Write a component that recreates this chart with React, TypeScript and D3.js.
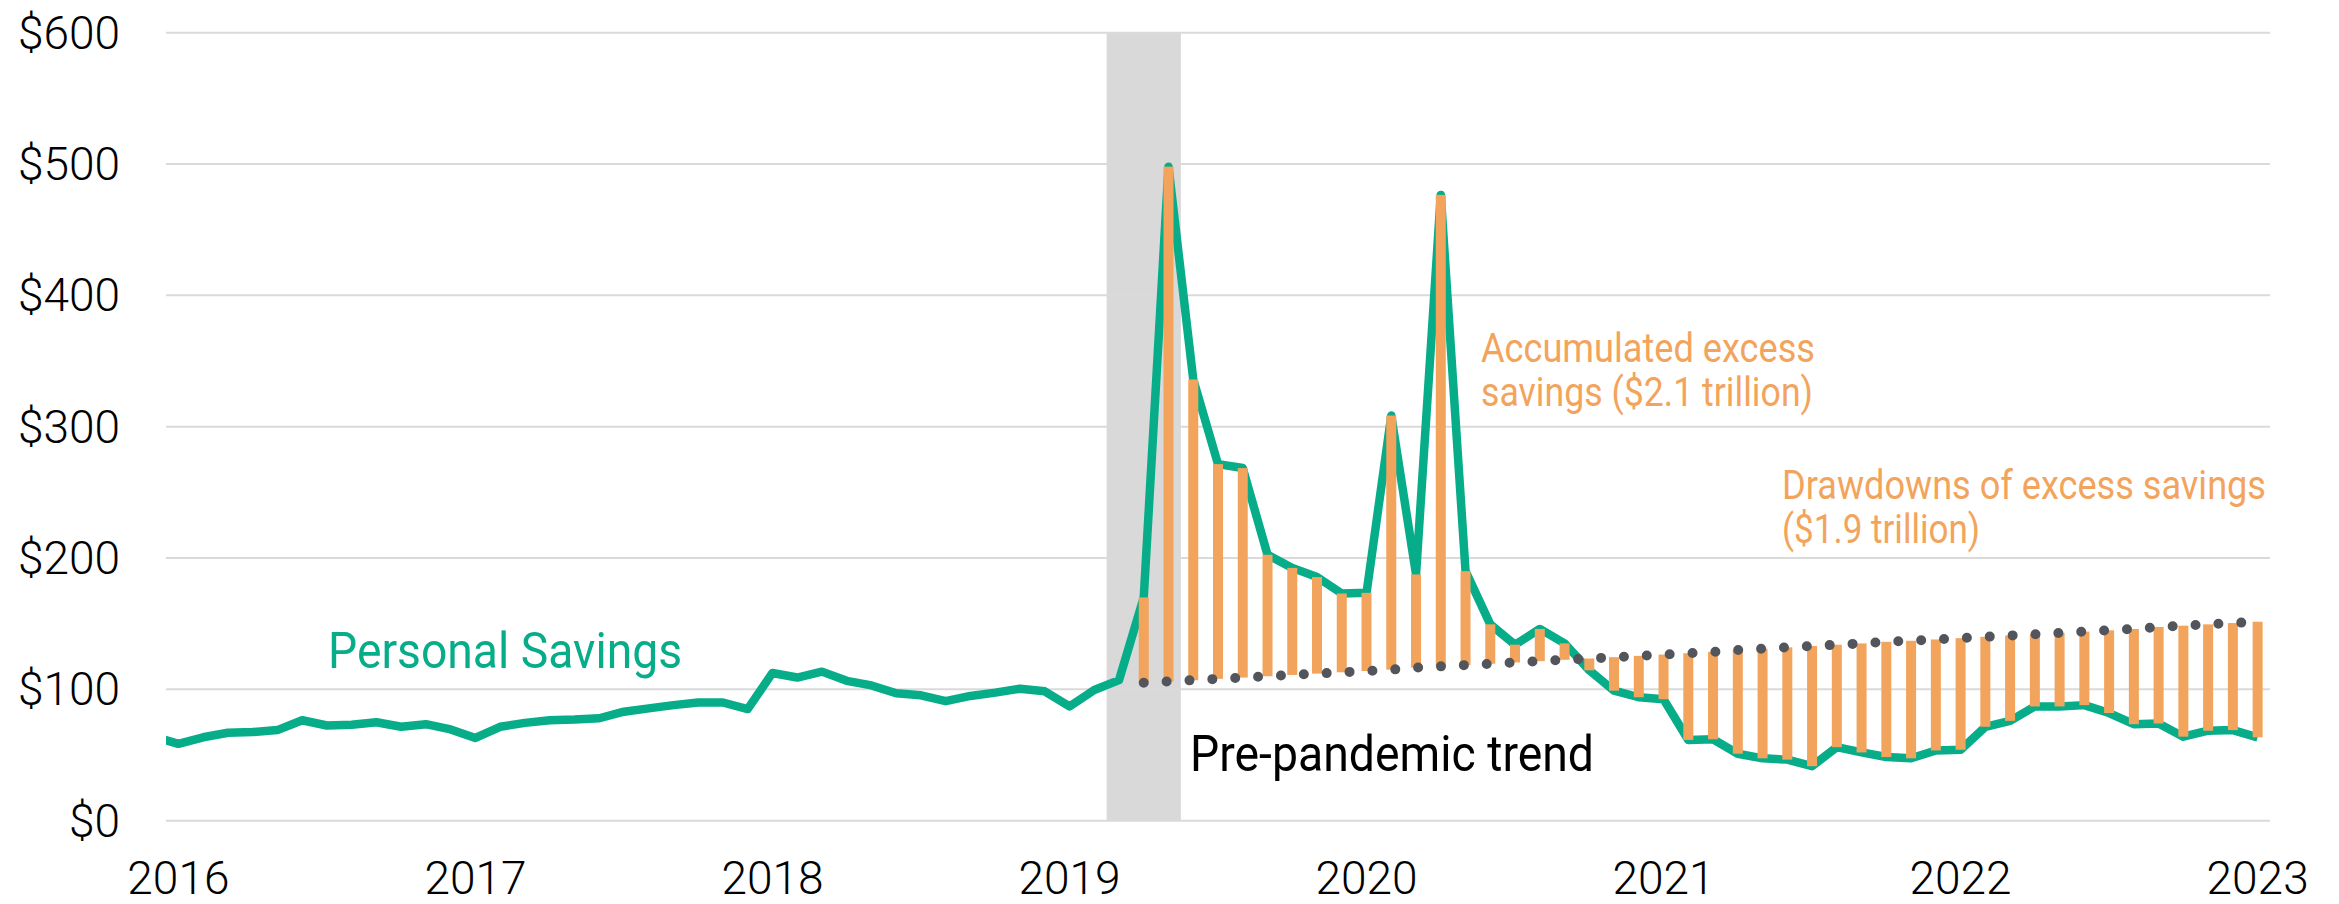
import React from "react";
import * as d3 from "d3";

// Month index of the first savings value (line starts one month before the 2016 tick and is clipped)
const savingsStart = -1;
const savings: number[] = [
  64, 58.5, 63.5, 67, 67.5, 69, 76.5, 72.5, 73, 75, 71.5, 73.5, 69.5,
  63, 71.5, 74.5, 76.5, 77, 78, 83, 85.5, 88, 90, 90, 85,
  112.5, 109, 113.5, 106.5, 103, 97, 95.5, 91, 95, 97.5, 100.5, 98.5,
  87, 99.5, 107, 170, 498, 336, 271.5, 268.5, 202.5, 192.5, 185.5, 173,
  173.5, 308.5, 187.5, 476.5, 190, 149.5, 134, 146, 135, 114.5, 99, 94,
  92.5, 61.5, 62, 51, 47.5, 46.5, 41.5, 56, 52, 48.5, 47.5, 53.5,
  54, 71.5, 76, 87, 87, 88, 82, 73.5, 74, 64, 68.5, 69, 63.5,
];

// Pre-pandemic trend, month index 39..84
const trendStart = 39;
const trend: number[] = [
  105, 106, 107, 108, 109, 110, 111, 112, 113, 114, 115, 116.5,
  117.5, 118.5, 119.5, 120.5, 121.5, 122.5, 123.5, 124.5, 125.5, 126.5,
  127.5, 128.5, 130, 131, 132, 133, 134, 135, 136.2, 137, 138, 139,
  140, 141, 142, 143, 144, 145, 146, 147.5, 148.5, 149.5, 150.5, 151.5,
];

const yearLabels: string[] = ["2016", "2017", "2018", "2019", "2020", "2021", "2022", "2023"];
const yearTickIndex: number[] = [0, 12, 24, 36, 48, 60, 72, 84];
const yTicks: number[] = [0, 100, 200, 300, 400, 500, 600];
const shadeRange: number[] = [37.5, 40.5];

const W = 2339;
const H = 904;
const GREEN = "#07AC89";
const ORANGE = "#F3A45C";
const DOT = "#52565C";
const GRID = "#DADADA";

export default function App() {
  const x = d3.scaleLinear().domain([-0.5, 84.5]).range([166, 2270]);
  const y = d3.scaleLinear().domain([0, 600]).range([820.7, 32.7]);

  const savingsPts = savings.map((v, i) => ({ k: i + savingsStart, v }));
  const trendPts = trend.map((v, i) => ({ k: i + trendStart, v }));

  const line = d3
    .line<{ k: number; v: number }>()
    .x((d) => x(d.k))
    .y((d) => y(d.v));

  const savingsByK = new Map(savingsPts.map((d) => [d.k, d.v]));
  const bars = trendPts.map((t) => {
    const s = savingsByK.get(t.k) as number;
    return { k: t.k, lo: Math.min(s, t.v), hi: Math.max(s, t.v) };
  });

  const barW = 10;

  return (
    <svg
      width={W}
      height={H}
      style={{ position: "absolute", left: 0, top: 0, background: "#fff" }}
      fontFamily="Roboto, 'Noto Sans', sans-serif"
    >
      <defs>
        <clipPath id="plotClip">
          <rect x={x(-0.5)} y={0} width={x(84.5) - x(-0.5)} height={H} />
        </clipPath>
      </defs>

      {/* recession shading */}
      <rect
        x={x(shadeRange[0])}
        y={y(600)}
        width={x(shadeRange[1]) - x(shadeRange[0])}
        height={y(0) - y(600)}
        fill="#D9D9D9"
      />

      {/* gridlines */}
      {yTicks.map((t) => (
        <line
          key={t}
          x1={x(-0.5)}
          x2={x(84.5)}
          y1={y(t)}
          y2={y(t)}
          stroke={GRID}
          strokeWidth={2}
        />
      ))}

      {/* y labels */}
      {yTicks.map((t) => (
        <text
          key={"yl" + t}
          x={120}
          y={y(t)}
          textAnchor="end"
          dominantBaseline="central"
          fontSize={46}
          fontWeight={300}
          fill="#000"
        >
          {"$" + t}
        </text>
      ))}

      {/* x labels */}
      {yearLabels.map((lab, i) => (
        <text
          key={lab}
          x={x(yearTickIndex[i])}
          y={894}
          textAnchor="middle"
          fontSize={46}
          fontWeight={300}
          fill="#000"
        >
          {lab}
        </text>
      ))}

      {/* savings line */}
      <path
        d={line(savingsPts) || ""}
        fill="none"
        stroke={GREEN}
        strokeWidth={8.5}
        strokeLinejoin="round"
        clipPath="url(#plotClip)"
      />

      {/* excess savings bars */}
      {bars.map((b) => (
        <rect
          key={"b" + b.k}
          x={x(b.k) - barW / 2}
          y={y(b.hi)}
          width={barW}
          height={y(b.lo) - y(b.hi)}
          fill={ORANGE}
        />
      ))}

      {/* pre-pandemic trend dotted line */}
      <path
        d={line(trendPts) || ""}
        fill="none"
        stroke={DOT}
        strokeWidth={10}
        strokeLinecap="round"
        strokeDasharray="0 22.9"
      />

      {/* annotations */}
      <text x={328} y={668} fontSize={50} fill={GREEN} textLength={354} lengthAdjust="spacingAndGlyphs">
        Personal Savings
      </text>
      <text x={1190} y={771} fontSize={50} fill="#000" textLength={404} lengthAdjust="spacingAndGlyphs">
        Pre-pandemic trend
      </text>
      <text x={1481} y={362} fontSize={40} fill={ORANGE} textLength={334} lengthAdjust="spacingAndGlyphs">
        Accumulated excess
      </text>
      <text x={1481} y={406} fontSize={40} fill={ORANGE} textLength={332} lengthAdjust="spacingAndGlyphs">
        savings ($2.1 trillion)
      </text>
      <text x={1782} y={499} fontSize={40} fill={ORANGE} textLength={484} lengthAdjust="spacingAndGlyphs">
        Drawdowns of excess savings
      </text>
      <text x={1782} y={543} fontSize={40} fill={ORANGE} textLength={198} lengthAdjust="spacingAndGlyphs">
        ($1.9 trillion)
      </text>
    </svg>
  );
}
